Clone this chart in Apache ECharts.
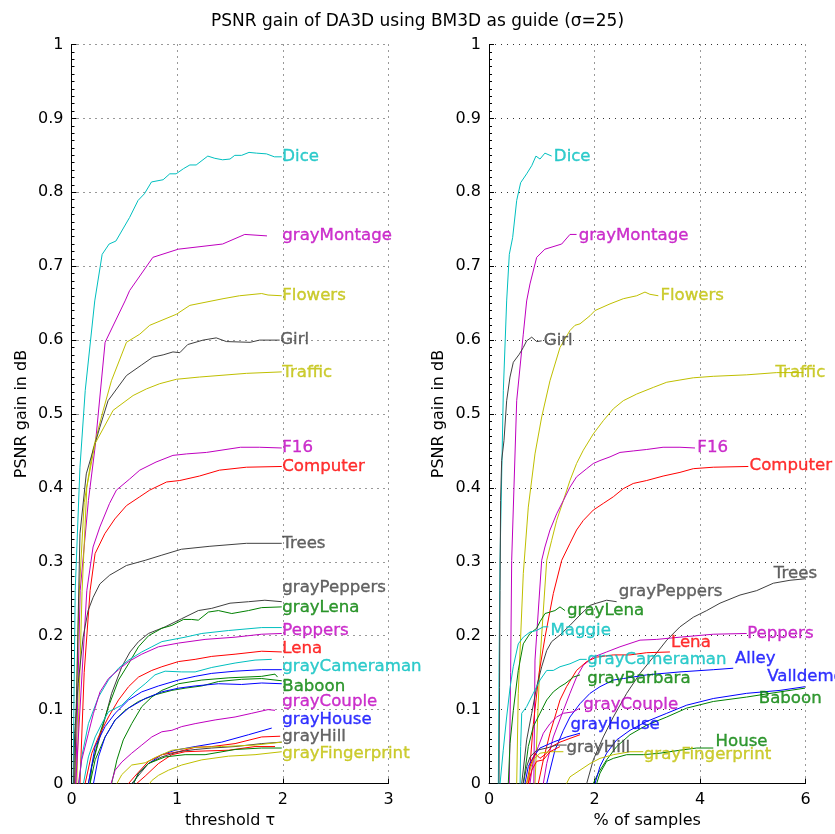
<!DOCTYPE html>
<html>
<head>
<meta charset="utf-8">
<script src="https://cdn.jsdelivr.net/npm/echarts@6/dist/echarts.min.js"></script>
<style>
html,body{margin:0;padding:0;background:#fff;}
#chart{width:835px;height:834px;}
</style>
</head>
<body>
<div id="chart"></div>
<script>
// ---------- Left panel: PSNR gain vs threshold tau ----------
const L_Dice = [[0.015,0],[0.035,0.261],[0.08,0.428],[0.13,0.532],[0.22,0.653],[0.29,0.716],[0.356,0.73],[0.42,0.734],[0.55,0.766],[0.63,0.789],[0.69,0.798],[0.757,0.814],[0.867,0.817],[0.93,0.825],[0.99,0.825],[1.06,0.832],[1.12,0.837],[1.18,0.837],[1.29,0.849],[1.356,0.846],[1.43,0.844],[1.5,0.845],[1.545,0.85],[1.61,0.85],[1.68,0.854],[1.75,0.853],[1.845,0.852],[1.92,0.848],[1.99,0.848]];
const L_grayMontage = [[0.04,0],[0.082,0.261],[0.16,0.383],[0.223,0.455],[0.318,0.597],[0.507,0.653],[0.55,0.667],[0.77,0.712],[1.01,0.723],[1.43,0.73],[1.64,0.743],[1.85,0.741]];
const L_Flowers = [[0.03,0],[0.07,0.25],[0.12,0.38],[0.2,0.45],[0.3,0.505],[0.378,0.545],[0.52,0.597],[0.646,0.608],[0.74,0.62],[0.993,0.635],[1.12,0.647],[1.434,0.656],[1.59,0.66],[1.8,0.663],[1.86,0.661],[1.99,0.66]];
const L_Girl = [[0.03,0],[0.08,0.338],[0.14,0.419],[0.268,0.482],[0.346,0.518],[0.52,0.552],[0.66,0.566],[0.77,0.577],[0.867,0.58],[0.96,0.584],[1.025,0.583],[1.1,0.594],[1.245,0.6],[1.37,0.603],[1.466,0.598],[1.69,0.597],[1.78,0.6],[1.97,0.6]];
const L_Traffic = [[0.05,0],[0.1,0.26],[0.145,0.401],[0.223,0.46],[0.394,0.505],[0.583,0.525],[0.71,0.534],[0.835,0.541],[0.993,0.547],[1.21,0.55],[1.655,0.555],[1.99,0.557]];
const L_F16 = [[0.04,0],[0.145,0.261],[0.204,0.32],[0.268,0.347],[0.36,0.379],[0.425,0.397],[0.55,0.412],[0.646,0.424],[0.8,0.435],[0.96,0.444],[1.09,0.446],[1.277,0.448],[1.6,0.455],[1.78,0.455],[1.99,0.454]];
const L_Computer = [[0.08,0],[0.12,0.15],[0.176,0.261],[0.223,0.311],[0.315,0.338],[0.41,0.358],[0.52,0.376],[0.646,0.388],[0.74,0.397],[0.9,0.408],[1.025,0.41],[1.21,0.416],[1.4,0.424],[1.655,0.428],[1.99,0.429]];
const L_Trees = [[0.02,0],[0.03,0.068],[0.063,0.135],[0.11,0.198],[0.157,0.234],[0.205,0.252],[0.268,0.27],[0.362,0.282],[0.52,0.295],[0.697,0.302],[0.855,0.309],[1.04,0.317],[1.31,0.321],[1.655,0.325],[1.99,0.325]];
const L_grayPeppers = [[0.16,0],[0.192,0.023],[0.287,0.072],[0.38,0.122],[0.476,0.158],[0.554,0.178],[0.634,0.192],[0.728,0.203],[0.886,0.212],[1.043,0.223],[1.2,0.234],[1.327,0.237],[1.5,0.244],[1.675,0.246],[1.83,0.248],[1.99,0.246]];
const L_grayLena = [[0.176,0],[0.192,0.023],[0.27,0.068],[0.35,0.104],[0.445,0.14],[0.54,0.162],[0.634,0.185],[0.73,0.2],[0.855,0.21],[0.95,0.214],[1.06,0.222],[1.138,0.222],[1.2,0.221],[1.296,0.232],[1.39,0.234],[1.517,0.23],[1.675,0.234],[1.8,0.238],[1.99,0.239]];
const L_Maggie = [[0.072,0],[0.097,0.036],[0.16,0.081],[0.255,0.117],[0.35,0.14],[0.445,0.156],[0.54,0.167],[0.665,0.178],[0.76,0.185],[0.855,0.192],[1.075,0.198],[1.233,0.203],[1.485,0.207],[1.8,0.211],[1.99,0.211]];
const L_Peppers = [[0.066,0],[0.097,0.032],[0.16,0.068],[0.208,0.095],[0.27,0.124],[0.35,0.142],[0.445,0.154],[0.54,0.165],[0.665,0.175],[0.823,0.185],[1.012,0.19],[1.264,0.195],[1.548,0.198],[1.8,0.202],[1.99,0.203]];
const L_Lena = [[0.129,0],[0.192,0.041],[0.255,0.063],[0.35,0.09],[0.445,0.113],[0.54,0.131],[0.634,0.144],[0.76,0.153],[0.855,0.158],[1.012,0.165],[1.17,0.168],[1.327,0.172],[1.548,0.175],[1.8,0.179],[1.99,0.178]];
const L_grayCameraman = [[0.113,0],[0.16,0.036],[0.224,0.063],[0.287,0.081],[0.35,0.097],[0.476,0.106],[0.602,0.124],[0.697,0.135],[0.79,0.147],[0.886,0.152],[1.043,0.151],[1.17,0.151],[1.327,0.157],[1.548,0.163],[1.737,0.167],[1.895,0.168]];
const L_Alley = [[0.16,0],[0.224,0.05],[0.318,0.077],[0.413,0.095],[0.54,0.113],[0.665,0.124],[0.823,0.132],[1.012,0.14],[1.17,0.145],[1.327,0.149],[1.548,0.152],[1.8,0.154],[1.99,0.154]];
const L_grayBarbara = [[0.176,0],[0.224,0.032],[0.318,0.063],[0.413,0.086],[0.507,0.099],[0.634,0.111],[0.79,0.12],[0.95,0.126],[1.075,0.129],[1.233,0.132],[1.39,0.138],[1.61,0.141],[1.8,0.142],[1.99,0.139]];
const L_Baboon = [[0.38,0],[0.43,0.032],[0.49,0.059],[0.57,0.081],[0.665,0.104],[0.76,0.117],[0.855,0.126],[1.012,0.135],[1.233,0.14],[1.49,0.143],[1.8,0.145],[1.926,0.148],[1.95,0.144]];
const L_Valldemossa = [[0.208,0],[0.255,0.036],[0.318,0.063],[0.413,0.086],[0.54,0.102],[0.697,0.115],[0.855,0.124],[1.012,0.129],[1.17,0.132],[1.39,0.135],[1.61,0.134],[1.8,0.136],[1.99,0.135]];
const L_grayCouple = [[0.375,0],[0.413,0.018],[0.476,0.029],[0.57,0.041],[0.665,0.052],[0.76,0.063],[0.855,0.07],[0.95,0.072],[1.043,0.077],[1.17,0.081],[1.359,0.086],[1.548,0.09],[1.706,0.095],[1.86,0.1],[1.926,0.099]];
const L_grayHouse = [[0.587,0],[0.634,0.014],[0.728,0.027],[0.855,0.039],[0.98,0.045],[1.17,0.05],[1.422,0.056],[1.675,0.066],[1.895,0.075]];
const L_red2 = [[0.54,0],[0.6,0.01],[0.728,0.03],[0.855,0.039],[1.012,0.043],[1.17,0.049],[1.327,0.05],[1.548,0.054],[1.8,0.063],[1.975,0.064]];
const L_grayHill = [[0.57,0],[0.6,0.005],[0.728,0.027],[0.855,0.036],[1.012,0.043],[1.17,0.046],[1.327,0.048],[1.548,0.05],[1.8,0.054],[1.99,0.056]];
const L_yellow2 = [[0.43,0],[0.476,0.012],[0.57,0.025],[0.697,0.028],[0.79,0.035],[0.95,0.045],[1.17,0.049],[1.42,0.05],[1.74,0.052],[1.99,0.056]];
const L_red3 = [[0.617,0],[0.697,0.01],[0.823,0.027],[0.95,0.039],[1.075,0.043],[1.264,0.044],[1.485,0.045],[1.737,0.05],[1.926,0.05]];
const L_House = [[0.587,0],[0.634,0.014],[0.728,0.027],[0.886,0.036],[1.075,0.039],[1.264,0.039],[1.548,0.046],[1.8,0.048],[1.99,0.048]];
const L_grayFingerprint = [[0.74,0],[0.76,0.004],[0.823,0.011],[0.918,0.018],[1.043,0.025],[1.233,0.032],[1.485,0.037],[1.737,0.039],[1.99,0.043]];

// ---------- Right panel: PSNR gain vs % of samples ----------
const R_Dice = [[0.177,0],[0.19,0.15],[0.209,0.302],[0.272,0.532],[0.335,0.653],[0.385,0.716],[0.449,0.739],[0.525,0.789],[0.6,0.813],[0.714,0.825],[0.81,0.836],[0.89,0.849],[0.967,0.845],[1.06,0.853],[1.188,0.849]];
const R_grayMontage = [[0.385,0],[0.41,0.15],[0.43,0.302],[0.525,0.518],[0.65,0.608],[0.714,0.653],[0.777,0.676],[0.904,0.712],[1.06,0.723],[1.378,0.73],[1.535,0.743],[1.66,0.743]];
const R_Flowers = [[0.525,0],[0.555,0.122],[0.65,0.284],[0.745,0.374],[0.872,0.446],[0.999,0.496],[1.156,0.545],[1.346,0.59],[1.535,0.613],[1.63,0.62],[1.725,0.622],[1.915,0.633],[2.01,0.64],[2.294,0.649],[2.546,0.656],[2.8,0.66],[2.957,0.665],[3.05,0.662],[3.21,0.66]];
const R_Girl = [[0.19,0],[0.2,0.13],[0.209,0.261],[0.22,0.383],[0.24,0.437],[0.284,0.464],[0.335,0.518],[0.398,0.55],[0.461,0.57],[0.575,0.581],[0.65,0.59],[0.714,0.599],[0.81,0.604],[0.904,0.598],[0.999,0.599]];
const R_Traffic = [[0.872,0],[0.967,0.167],[1.094,0.302],[1.188,0.329],[1.283,0.356],[1.41,0.383],[1.535,0.41],[1.66,0.433],[1.788,0.451],[1.977,0.473],[2.167,0.491],[2.357,0.507],[2.546,0.518],[2.8,0.527],[3.115,0.536],[3.37,0.543],[3.62,0.546],[3.873,0.549],[4.252,0.551],[4.885,0.553],[5.45,0.556],[5.96,0.556]];
const R_F16 = [[0.85,0],[0.872,0.167],[0.999,0.302],[1.06,0.32],[1.156,0.343],[1.283,0.365],[1.41,0.383],[1.535,0.401],[1.66,0.415],[1.852,0.426],[1.977,0.433],[2.104,0.437],[2.294,0.442],[2.483,0.448],[2.735,0.45],[2.99,0.452],[3.3,0.455],[3.62,0.455],[3.905,0.454]];
const R_Computer = [[0.75,0],[0.84,0.08],[0.95,0.15],[1.062,0.198],[1.219,0.257],[1.378,0.302],[1.535,0.325],[1.66,0.343],[1.788,0.356],[1.977,0.37],[2.167,0.379],[2.357,0.388],[2.546,0.399],[2.735,0.406],[2.99,0.41],[3.3,0.416],[3.62,0.421],[3.873,0.426],[4.252,0.428],[4.916,0.429]];
const R_Trees = [[1.852,0],[1.977,0.032],[2.167,0.063],[2.357,0.09],[2.61,0.122],[2.863,0.149],[3.115,0.171],[3.37,0.194],[3.62,0.212],[3.873,0.225],[4.127,0.234],[4.379,0.244],[4.758,0.255],[5.075,0.261],[5.39,0.271],[5.706,0.275],[5.99,0.277]];
const R_grayPeppers = [[0.62,0],[0.714,0.059],[0.81,0.095],[0.904,0.131],[0.999,0.158],[1.094,0.18],[1.188,0.192],[1.346,0.201],[1.535,0.214],[1.725,0.228],[1.915,0.241],[2.04,0.244],[2.23,0.248],[2.42,0.246]];
const R_grayLena = [[0.366,0],[0.398,0.054],[0.461,0.099],[0.555,0.153],[0.65,0.189],[0.777,0.203],[0.904,0.21],[0.967,0.219],[1.062,0.23],[1.156,0.232],[1.25,0.234],[1.346,0.239],[1.44,0.234]];
const R_Maggie = [[0.21,0],[0.27,0.045],[0.335,0.09],[0.4,0.13],[0.46,0.158],[0.555,0.189],[0.65,0.198],[0.777,0.205],[0.9,0.207],[1.03,0.212],[1.125,0.212]];
const R_Peppers = [[1.03,0],[1.094,0.027],[1.219,0.063],[1.41,0.099],[1.535,0.122],[1.66,0.144],[1.788,0.16],[1.977,0.171],[2.23,0.178],[2.483,0.185],[2.863,0.194],[3.18,0.195],[3.62,0.198],[4.252,0.202],[4.885,0.203]];
const R_Lena = [[0.935,0],[1.03,0.032],[1.156,0.068],[1.25,0.09],[1.346,0.113],[1.47,0.131],[1.66,0.153],[1.852,0.165],[2.04,0.171],[2.357,0.174],[2.673,0.174],[2.99,0.177],[3.43,0.178]];
const R_grayCameraman = [[0.59,0],[0.6,0.05],[0.62,0.095],[0.714,0.104],[0.84,0.122],[0.967,0.14],[1.094,0.153],[1.219,0.153],[1.346,0.158],[1.535,0.162],[1.725,0.168],[1.852,0.168]];
const R_Alley = [[1.094,0],[1.25,0.045],[1.41,0.072],[1.535,0.09],[1.725,0.108],[1.915,0.122],[2.104,0.131],[2.357,0.14],[2.546,0.142],[2.99,0.147],[3.62,0.151],[4.252,0.154],[4.63,0.156]];
const R_grayBarbara = [[0.65,0],[0.745,0.05],[0.84,0.077],[0.967,0.095],[1.094,0.113],[1.219,0.124],[1.346,0.131],[1.44,0.135],[1.6,0.144],[1.725,0.147]];
const R_Baboon = [[1.977,0],[2.07,0.014],[2.23,0.032],[2.42,0.05],[2.673,0.066],[2.99,0.079],[3.37,0.09],[3.748,0.102],[4.252,0.111],[4.885,0.117],[5.517,0.124],[5.99,0.129]];
const R_Valldemossa = [[2.01,0],[2.104,0.023],[2.23,0.041],[2.42,0.059],[2.673,0.072],[2.99,0.084],[3.37,0.095],[3.748,0.106],[4.252,0.115],[4.885,0.122],[5.517,0.126],[5.99,0.131]];
const R_grayCouple = [[0.777,0],[0.84,0.032],[0.935,0.05],[1.03,0.068],[1.156,0.081],[1.283,0.09],[1.41,0.095],[1.6,0.097],[1.725,0.102]];
const R_grayHouse = [[0.682,0],[0.745,0.023],[0.84,0.036],[0.967,0.048],[1.219,0.056],[1.473,0.063],[1.725,0.068]];
const R_red2 = [[0.714,0],[0.777,0.023],[0.872,0.041],[0.967,0.034],[1.094,0.041],[1.188,0.05],[1.346,0.056],[1.535,0.061],[1.725,0.066]];
const R_grayHill = [[0.65,0],[0.714,0.023],[0.777,0.036],[0.904,0.045],[1.094,0.048],[1.283,0.052],[1.473,0.052]];
const R_yellow2 = [[0.714,0],[0.777,0.018],[0.84,0.032],[0.967,0.041],[1.156,0.043],[1.41,0.043]];
const R_red3 = [[0.745,0],[0.81,0.018],[0.904,0.03],[1.03,0.032],[1.156,0.043],[1.346,0.05]];
const R_House = [[2.04,0],[2.104,0.014],[2.23,0.03],[2.357,0.034],[2.61,0.039],[2.925,0.039],[3.24,0.041],[3.62,0.045],[3.937,0.048],[4.252,0.048]];
const R_grayFingerprint = [[1.47,0],[1.535,0.009],[1.725,0.018],[1.915,0.027],[2.104,0.034],[2.357,0.039],[2.673,0.043],[2.925,0.043]];

// ---------- series names and color codes ----------
const seriesNames = ['Dice','grayMontage','Flowers','Girl','Traffic','F16','Computer','Trees','grayPeppers','grayLena','Maggie','Peppers','Lena','grayCameraman','Alley','grayBarbara','Baboon','Valldemossa','grayCouple','grayHouse','image21','grayHill','image23','image24','House','grayFingerprint'];
const seriesColorCodes = ['c','m','y','k','y','m','r','k','k','g','c','m','r','c','b','g','g','b','m','b','r','k','y','r','g','y'];
const leftSeriesData = [L_Dice,L_grayMontage,L_Flowers,L_Girl,L_Traffic,L_F16,L_Computer,L_Trees,L_grayPeppers,L_grayLena,L_Maggie,L_Peppers,L_Lena,L_grayCameraman,L_Alley,L_grayBarbara,L_Baboon,L_Valldemossa,L_grayCouple,L_grayHouse,L_red2,L_grayHill,L_yellow2,L_red3,L_House,L_grayFingerprint];
const rightSeriesData = [R_Dice,R_grayMontage,R_Flowers,R_Girl,R_Traffic,R_F16,R_Computer,R_Trees,R_grayPeppers,R_grayLena,R_Maggie,R_Peppers,R_Lena,R_grayCameraman,R_Alley,R_grayBarbara,R_Baboon,R_Valldemossa,R_grayCouple,R_grayHouse,R_red2,R_grayHill,R_yellow2,R_red3,R_House,R_grayFingerprint];

// ---------- text labels (name, x, y in data units) ----------
const leftLabelNames = ['Dice','grayMontage','Flowers','Girl','Traffic','F16','Computer','Trees','grayPeppers','grayLena','Peppers','Lena','grayCameraman','Baboon','grayCouple','grayHouse','grayHill','grayFingerprint'];
const leftLabelX = [1.99,1.99,1.99,1.97,1.99,1.99,1.99,1.99,1.99,1.99,1.99,1.99,1.99,1.99,1.99,1.99,1.99,1.99];
const leftLabelY = [0.848,0.741,0.66,0.60,0.556,0.455,0.429,0.325,0.265,0.238,0.207,0.182,0.158,0.131,0.111,0.086,0.063,0.04];
const rightLabelNames = ['Dice','grayMontage','Flowers','Girl','Traffic','F16','Computer','Trees','grayPeppers','grayLena','Maggie','Peppers','Lena','grayCameraman','Alley','grayBarbara','Valldemossa','Baboon','grayCouple','grayHouse','grayHill','House','grayFingerprint'];
const rightLabelX = [1.22,1.69,3.24,1.03,5.42,3.94,4.93,5.39,2.45,1.47,1.156,4.885,3.44,1.852,4.654,1.852,5.265,5.105,1.776,1.535,1.46,4.285,2.925];
const rightLabelY = [0.848,0.741,0.66,0.599,0.556,0.455,0.43,0.284,0.26,0.234,0.207,0.203,0.19,0.168,0.169,0.142,0.144,0.115,0.106,0.079,0.049,0.056,0.039];

const titleText = 'PSNR gain of DA3D using BM3D as guide (σ=25)';
const leftXName = 'threshold τ';
const rightXName = '% of samples';
const yName = 'PSNR gain in dB';

// ---------- styling ----------
const palette = {c:'#00bfbf', m:'#bf00bf', y:'#bfbf00', k:'#404040', g:'#008000', r:'#ff0000', b:'#0000ff'};
const FONT = 'DejaVu Sans';
function colorOf(name){ return palette[seriesColorCodes[seriesNames.indexOf(name)]]; }

function makeXAxis(idx, max, interval, name){
  return {
    type:'value', gridIndex:idx, min:0, max:max, interval:interval,
    name:name, nameLocation:'middle', nameGap:27,
    nameTextStyle:{fontFamily:FONT, fontSize:16, color:'#000'},
    axisLine:{show:true, onZero:false, lineStyle:{color:'#000', width:1}},
    axisTick:{show:true, inside:true, length:5, lineStyle:{color:'#000'}},
    axisLabel:{fontFamily:FONT, fontSize:16, color:'#000', margin:8},
    splitLine:{show:true, lineStyle:{color:'#333', width:1, type:[1,5]}}
  };
}
function makeYAxis(idx){
  return {
    type:'value', gridIndex:idx, min:0, max:1, interval:0.1,
    name:yName, nameLocation:'middle', nameGap:42,
    nameTextStyle:{fontFamily:FONT, fontSize:16, color:'#000'},
    axisLine:{show:true, onZero:false, lineStyle:{color:'#000', width:1}},
    axisTick:{show:true, inside:true, length:5, lineStyle:{color:'#000'}},
    minorTick:{show:true, splitNumber:10, length:3, lineStyle:{color:'#000', width:1}},
    axisLabel:{fontFamily:FONT, fontSize:16, color:'#000', margin:8},
    splitLine:{show:true, lineStyle:{color:'#333', width:1, type:[1,5]}}
  };
}

const series = [];
function addLines(dataList, axisIdx){
  dataList.forEach((d, i) => {
    series.push({
      type:'line', name:seriesNames[i], xAxisIndex:axisIdx, yAxisIndex:axisIdx,
      data:d, symbol:'none', showSymbol:false, smooth:false, clip:true,
      lineStyle:{width:1, color:palette[seriesColorCodes[i]]},
      itemStyle:{color:palette[seriesColorCodes[i]]},
      z:2, silent:true
    });
  });
}
function addLabels(names, xs, ys, axisIdx){
  series.push({
    type:'scatter', xAxisIndex:axisIdx, yAxisIndex:axisIdx, symbolSize:1,
    itemStyle:{color:'rgba(0,0,0,0)'}, silent:true, z:5, clip:false,
    data: names.map((n, i) => ({
      name:n, value:[xs[i], ys[i]],
      label:{color:colorOf(n), textBorderColor:colorOf(n), textBorderWidth:0.35}
    })),
    label:{show:true, position:'right', distance:0, formatter:'{b}', fontFamily:FONT, fontSize:16.6}
  });
}
addLines(leftSeriesData, 0);
addLines(rightSeriesData, 1);
addLabels(leftLabelNames, leftLabelX, leftLabelY, 0);
addLabels(rightLabelNames, rightLabelX, rightLabelY, 1);

const chart = echarts.init(document.getElementById('chart'), null, {renderer:'canvas'});
chart.setOption({
  animation:false,
  backgroundColor:'#fff',
  title:{text:titleText, left:'center', top:8, textStyle:{fontFamily:FONT, fontSize:17, fontWeight:'normal', color:'#000'}},
  grid:[
    {left:71.5, top:44.5, width:317, height:739},
    {left:489, top:44.5, width:316.5, height:739}
  ],
  xAxis:[makeXAxis(0, 3, 1, leftXName), makeXAxis(1, 6, 2, rightXName)],
  yAxis:[makeYAxis(0), makeYAxis(1)],
  series:series
});
</script>
</body>
</html>
